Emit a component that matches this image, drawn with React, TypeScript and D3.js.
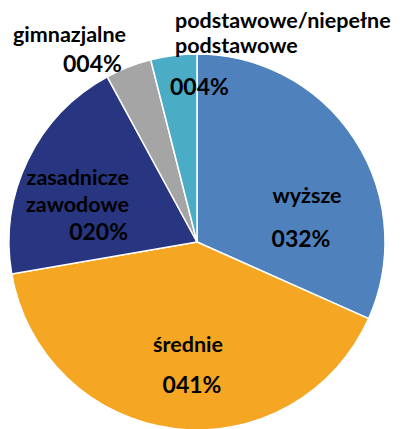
import React, { useEffect } from "react";
import * as d3 from "d3";

const categories = ["wyższe", "średnie", "zasadnicze zawodowe", "gimnazjalne", "podstawowe/niepełne podstawowe"];
const values = [32, 41, 20, 4, 4];
const colors = ["#4F81BD", "#F5A623", "#283580", "#A5A5A5", "#4BACC6"];

// label lines per slice (how the names wrap in the original)
const nameLines = [["wyższe"], ["średnie"], ["zasadnicze", "zawodowe"], ["gimnazjalne"], ["podstawowe/niepełne", "podstawowe"]];

// label layout, relative to the pie centre
const labelLayout = [
  { x: 110, y: -39, anchor: "middle", pctX: 104, pctY: 5, gap: 27 },
  { x: -9, y: 110, anchor: "middle", pctX: -5, pctY: 151, gap: 27 },
  { x: -68, y: -57, anchor: "end", pctX: -69, pctY: -2, gap: 27 },
  { x: -184, y: -200, anchor: "start", pctX: -134, pctY: -170, gap: 27 },
  { x: -22, y: -214, anchor: "start", pctX: -27, pctY: -147, gap: 25 },
];

const W = 404;
const H = 429;

export default function App() {
  useEffect(() => {
    document.body.style.margin = "0";
  }, []);

  const cx = 197;
  const cy = 242;
  const r = 188;

  const pie = d3.pie<number>().sort(null).value((d) => d);
  const arcs = pie(values);
  const arc = d3.arc<d3.PieArcDatum<number>>().innerRadius(0).outerRadius(r);
  const fmt = d3.format("03d");

  return (
    <svg width={W} height={H} style={{ display: "block" }} fontFamily="Lato, 'Noto Sans', sans-serif" fontWeight="bold">
      <g transform={`translate(${cx},${cy})`}>
        {arcs.map((a, i) => (
          <path key={categories[i]} d={arc(a) || ""} fill={colors[i]} stroke="#fff" strokeWidth={1.5} />
        ))}
        {arcs.map((a, i) => {
          const l = labelLayout[i];
          return (
            <g key={"l" + i} fill="#000">
              <text x={l.x} y={l.y} textAnchor={l.anchor} fontSize={21.5}>
                {nameLines[i].map((t, j) => (
                  <tspan key={j} x={l.x} dy={j === 0 ? 0 : l.gap}>
                    {t}
                  </tspan>
                ))}
              </text>
              <text x={l.pctX} y={l.pctY} textAnchor={l.anchor} fontSize={23}>
                {fmt(a.data) + "%"}
              </text>
            </g>
          );
        })}
      </g>
    </svg>
  );
}
